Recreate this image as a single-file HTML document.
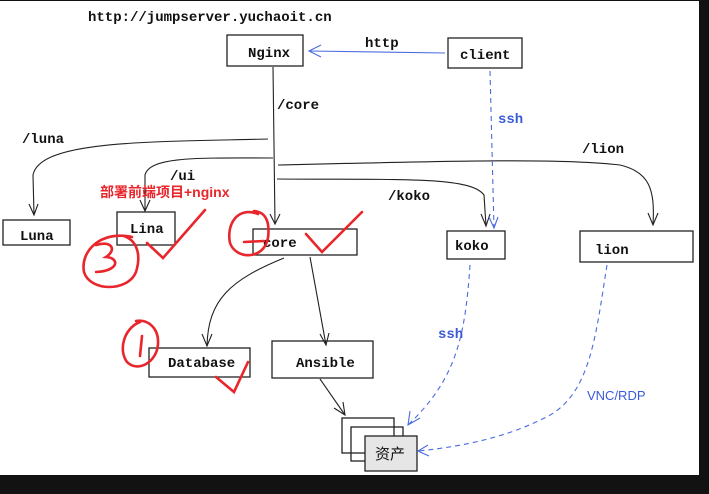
<!DOCTYPE html><html><head><style>body{margin:0;width:709px;height:489px;background:#121212;overflow:hidden}</style></head><body>
<svg width="709" height="489" viewBox="0 0 709 489" xmlns="http://www.w3.org/2000/svg" font-family="Liberation Mono, DejaVu Sans Mono, monospace">
<rect x="0" y="1" width="699" height="474" fill="#fff"/>
<g fill="#fff" stroke="#222" stroke-width="1.3">
<rect x="227" y="35" width="76" height="31"/>
<rect x="448" y="38" width="74" height="30"/>
<rect x="3" y="220" width="67" height="25"/>
<rect x="117" y="212" width="58" height="33"/>
<rect x="253" y="229" width="104" height="26"/>
<rect x="447" y="231" width="58" height="28"/>
<rect x="580" y="231" width="113" height="31"/>
<rect x="149" y="348" width="101" height="29"/>
<rect x="272" y="341" width="101" height="37"/>
<rect x="342" y="418" width="52" height="35" fill="none"/>
<rect x="351" y="427" width="52" height="34" fill="none"/>
<rect x="365" y="436" width="52" height="35" fill="#e6e6e6"/>
</g>
<g font-size="14" font-weight="bold" fill="#111">
<text x="88" y="21">http://jumpserver.yuchaoit.cn</text>
<text x="248" y="57">Nginx</text>
<text x="460" y="59">client</text>
<text x="20" y="240">Luna</text>
<text x="130" y="233">Lina</text>
<text x="263" y="247">core</text>
<text x="455" y="250">koko</text>
<text x="595" y="254">lion</text>
<text x="168" y="367">Database</text>
<text x="296" y="367">Ansible</text>
<text x="277" y="109">/core</text>
<text x="22" y="143">/luna</text>
<text x="170" y="180">/ui</text>
<text x="388" y="200">/koko</text>
<text x="582" y="153">/lion</text>
<text x="365" y="47">http</text>
</g>
<text x="375" y="459" font-size="15" fill="#111" font-family="Noto Sans CJK SC, sans-serif">资产</text>
<g font-size="14" font-weight="bold" fill="#3b5bd6">
<text x="498" y="123">ssh</text>
<text x="438" y="338">ssh</text>
</g>
<text x="587" y="400" font-size="13" fill="#3b5bd6" font-family="Liberation Sans, sans-serif">VNC/RDP</text>
<g fill="none" stroke="#222" stroke-width="1.1">
<path d="M273 67 L275 224"/><path d="M270 214 L275 224 L280 214"/>
<path d="M268 139 C150 142 40 140 33 175 L34 215"/><path d="M29 204 L34 215 L38 204"/>
<path d="M273 158 C200 158 150 156 145 175 L145 211"/><path d="M140 200 L145 211 L150 200"/>
<path d="M277 179 C400 180 470 176 484 195 L486 226"/><path d="M481 214 L486 226 L490 214"/>
<path d="M278 165 C450 161 560 158 620 165 C650 172 655 190 653 225"/><path d="M648 213 L653 225 L658 213"/>
<path d="M284 258 C230 280 208 300 207 346"/><path d="M202 334 L207 346 L212 334"/>
<path d="M310 257 L326 345"/><path d="M320 334 L326 345 L329 333"/>
<path d="M320 379 L345 415"/><path d="M334 408 L345 415 L343 402"/>
</g>
<g fill="none" stroke="#4a6be0" stroke-width="1.1">
<path d="M445 53 L309 51"/><path d="M321 45 L309 51 L321 57"/>
<g stroke-dasharray="5,4"><path d="M490 71 L494 228"/>
<path d="M470 265 C465 340 455 380 408 425"/>
<path d="M607 265 C595 340 590 400 540 420 C500 440 450 448 418 451"/></g>
<path d="M489 217 L494 228 L498 217"/><path d="M410 411 L408 425 L420 418"/><path d="M428 445 L418 451 L429 456"/>
</g>
<text x="100" y="197" font-size="14" font-weight="bold" fill="#e8262b" font-family="Liberation Sans, Noto Sans CJK SC, sans-serif">部署前端项目+nginx</text>
<g fill="none" stroke="#e8262b" stroke-width="2.6" stroke-linecap="round">
<path d="M147 243 L163 258 L205 210"/>
<path d="M306 234 L322 252 L362 212"/>
<path d="M216 377 L234 392 L248 362"/>
<path d="M132 237 C100 230 80 252 84 272 C90 292 128 292 136 272 C141 256 138 241 124 236"/>
<path d="M96 245 C112 240 117 250 106 257 C120 258 119 271 96 272"/>
<path d="M258 214 C238 206 226 224 230 243 C236 260 264 260 268 238 C270 222 266 212 254 211"/>
<path d="M244 242 L264 241"/>
<path d="M140 322 C124 328 118 350 127 362 C138 373 157 362 158 344 C159 328 148 319 136 321"/>
<path d="M142 336 L140 356"/>
</g>
</svg>
</body></html>
